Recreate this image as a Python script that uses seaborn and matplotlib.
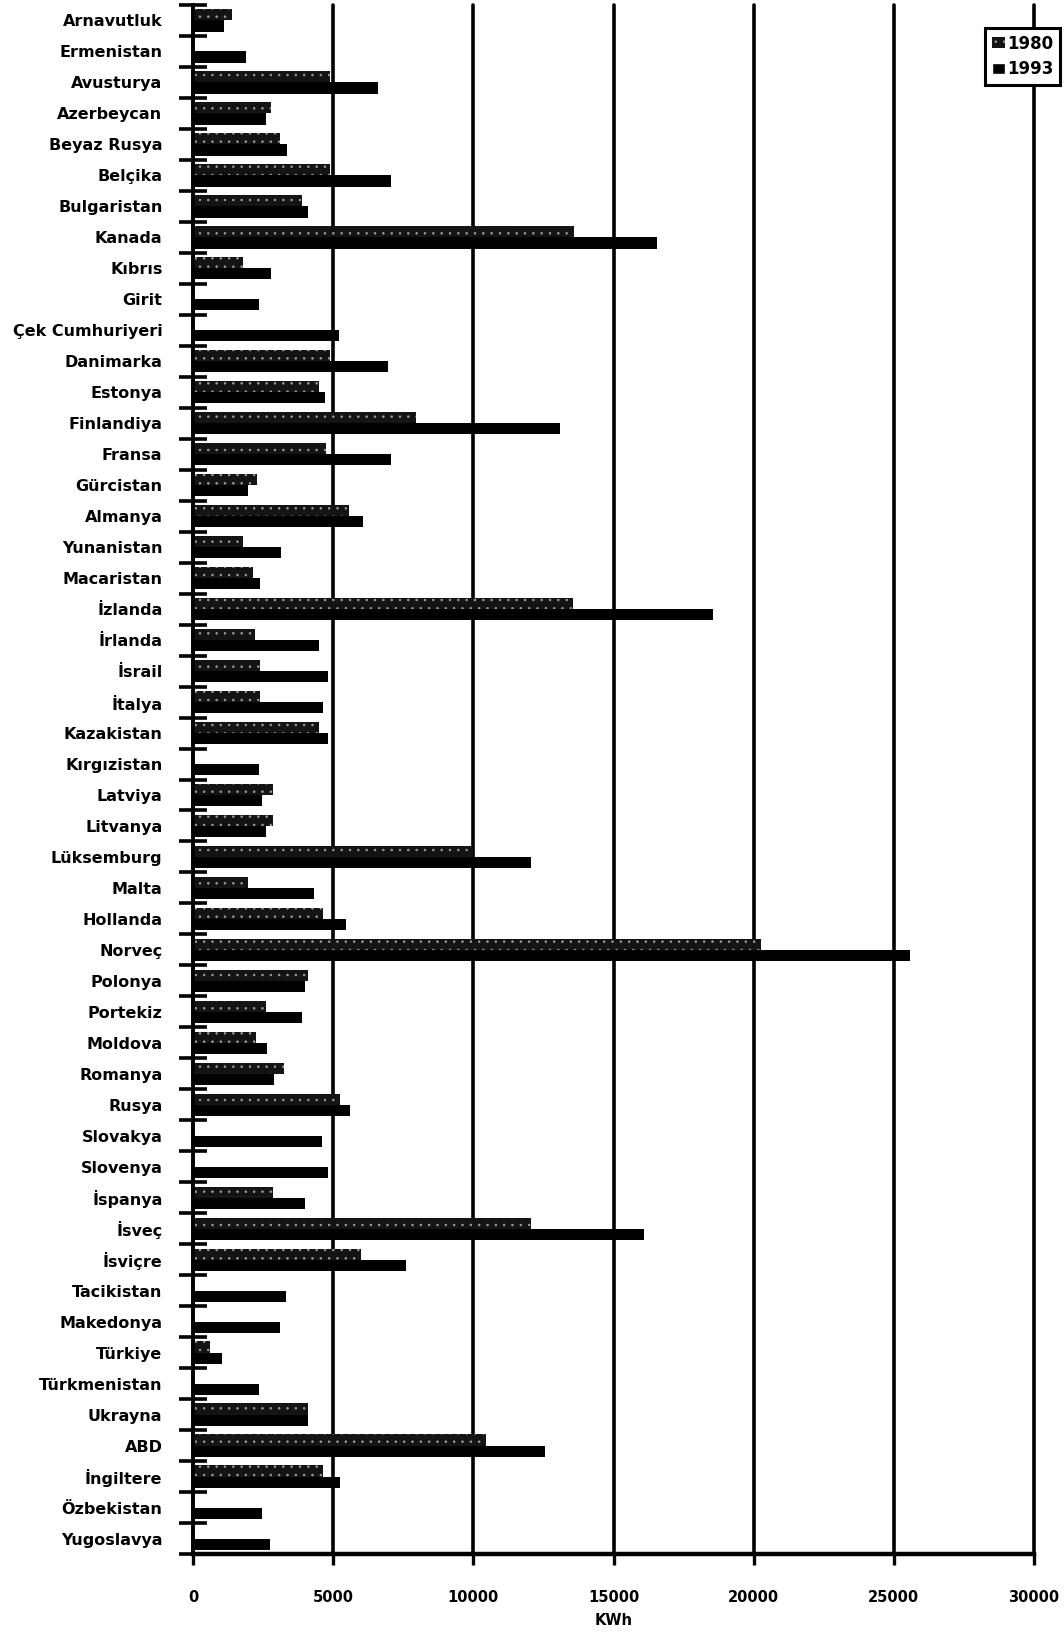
import numpy as np
import pandas as pd
import matplotlib
matplotlib.use("Agg")
import matplotlib.pyplot as plt
from matplotlib.patches import Patch
import seaborn as sns

countries = ["Arnavutluk", "Ermenistan", "Avusturya", "Azerbeycan", "Beyaz Rusya",
             "Belçika", "Bulgaristan", "Kanada", "Kıbrıs", "Girit",
             "Çek Cumhuriyeri", "Danimarka", "Estonya", "Finlandiya", "Fransa",
             "Gürcistan", "Almanya", "Yunanistan", "Macaristan", "İzlanda",
             "İrlanda", "İsrail", "İtalya", "Kazakistan", "Kırgızistan",
             "Latviya", "Litvanya", "Lüksemburg", "Malta", "Hollanda",
             "Norveç", "Polonya", "Portekiz", "Moldova", "Romanya",
             "Rusya", "Slovakya", "Slovenya", "İspanya", "İsveç",
             "İsviçre", "Tacikistan", "Makedonya", "Türkiye", "Türkmenistan",
             "Ukrayna", "ABD", "İngiltere", "Özbekistan", "Yugoslavya"]

v1980 = [1400, np.nan, 4900, 2800, 3100,
         4900, 3900, 13600, 1800, np.nan,
         np.nan, 4900, 4500, 7950, 4750,
         2300, 5550, 1800, 2150, 13550,
         2200, 2400, 2400, 4500, np.nan,
         2850, 2850, 10000, 1950, 4650,
         20250, 4100, 2600, 2250, 3250,
         5250, np.nan, np.nan, 2870, 12050,
         6000, np.nan, np.nan, 600, np.nan,
         4100, 10450, 4650, np.nan, np.nan]

v1993 = [1100, 1900, 6600, 2600, 3350,
         7050, 4100, 16550, 2800, 2350,
         5200, 6950, 4700, 13100, 7050,
         1950, 6050, 3150, 2400, 18550,
         4500, 4800, 4650, 4800, 2350,
         2450, 2600, 12050, 4300, 5450,
         25570, 4000, 3900, 2650, 2900,
         5600, 4610, 4820, 4000, 16100,
         7600, 3300, 3100, 1050, 2350,
         4100, 12550, 5250, 2450, 2750]

years = ["1980", "1993"]
xticks = [0, 5000, 10000, 15000, 20000, 25000, 30000]

df = pd.DataFrame({
    "country": countries * 2,
    "year": [years[0]] * len(countries) + [years[1]] * len(countries),
    "kwh": list(v1980) + list(v1993),
})

sns.set_style("white")
plt.rcParams["font.family"] = ["DejaVu Sans"]
plt.rcParams["hatch.linewidth"] = 0.6
plt.rcParams["text.color"] = "black"
plt.rcParams["axes.labelcolor"] = "black"
plt.rcParams["xtick.color"] = "black"
plt.rcParams["ytick.color"] = "black"

fig = plt.figure(figsize=(10.64, 16.32), dpi=100)
ax = fig.add_axes([193 / 1064, 1 - 1554 / 1632, (1034 - 193) / 1064, (1554 - 5) / 1632])

sns.barplot(data=df, y="country", x="kwh", hue="year", order=countries,
            hue_order=years, palette=["#141414", "#000000"], width=0.72,
            errorbar=None, ax=ax, legend=False, linewidth=0, saturation=1)

# dotted pattern for 1980 bars
for p in ax.containers[0]:
    p.set_hatch("..")
    p.set_edgecolor("#9a9a9a")
    p.set_linewidth(0)

n = len(countries)
ax.set_xlim(0, 30000)
ax.set_ylim(n - 0.5, -0.5)
ax.set_xticks(xticks)
ax.set_xticklabels([str(t) for t in xticks], fontsize=10.5, fontweight="bold", color="black")
ax.set_xlabel("KWh", fontsize=10.5, fontweight="bold", labelpad=6, color="black")
ax.set_ylabel("")
ax.tick_params(axis="y", which="major", left=False, length=0, pad=22, labelcolor="black")
for lab in ax.get_yticklabels():
    lab.set_fontsize(11.5)
    lab.set_fontweight("bold")
    lab.set_color("black")
ax.set_yticks(np.arange(-0.5, n, 1), minor=True)
ax.tick_params(axis="y", which="minor", left=True, direction="inout", length=20,
               width=2.6, color="black")
ax.tick_params(axis="x", which="major", bottom=True, direction="out", length=8,
               width=2.4, color="black", pad=18, labelcolor="black")

ax.grid(axis="x", color="black", linewidth=2.6)
ax.grid(axis="y", visible=False)
ax.set_axisbelow(True)
for gl in ax.get_xgridlines():
    gl.set_clip_on(False)

for s in ["top", "right"]:
    ax.spines[s].set_visible(False)
ax.spines["left"].set_linewidth(2.6)
ax.spines["left"].set_color("black")
ax.spines["bottom"].set_linewidth(3.2)
ax.spines["bottom"].set_color("black")

handles = [Patch(facecolor="#141414", edgecolor="#9a9a9a", hatch="..", linewidth=0, label="1980"),
           Patch(facecolor="black", label="1993")]
leg = fig.legend(handles=handles, loc="upper right", bbox_to_anchor=(1060 / 1064, 1 - 28 / 1632),
                 bbox_transform=fig.transFigure, frameon=True, fancybox=False,
                 prop={"weight": "bold", "size": 12}, handlelength=0.8, handleheight=0.65,
                 handletextpad=0.1, borderpad=0.4, labelspacing=0.45, borderaxespad=0)
leg.get_frame().set_edgecolor("black")
leg.get_frame().set_linewidth(2.2)
leg.get_frame().set_alpha(1)
for t in leg.get_texts():
    t.set_color("black")

fig.savefig("out.png", dpi=100)
